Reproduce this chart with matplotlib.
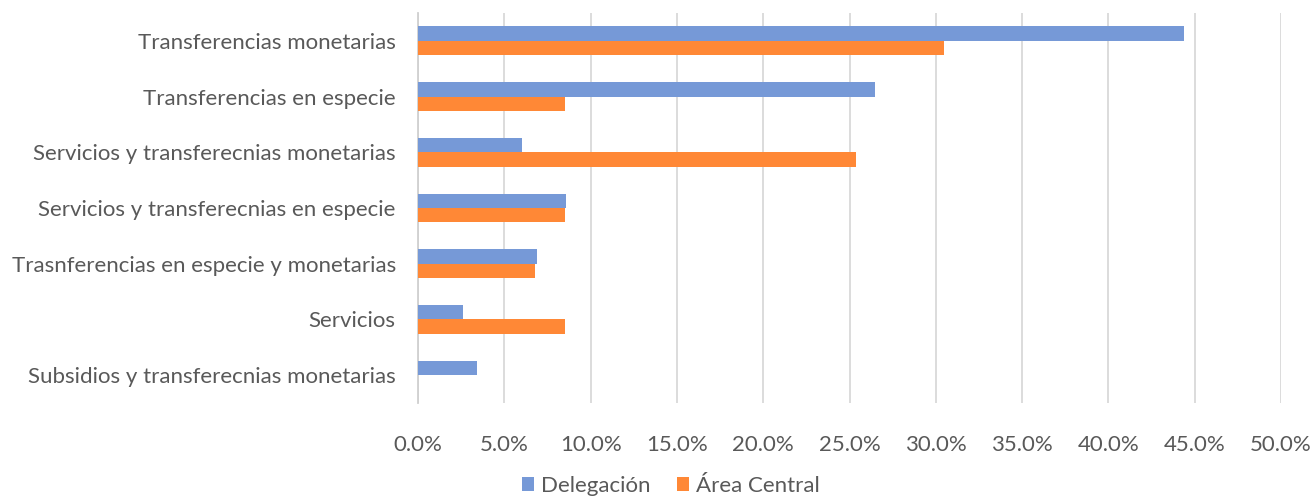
import matplotlib.pyplot as plt
import numpy as np
from matplotlib.ticker import FuncFormatter

#%% Datos (porcentaje)

categorias = [
    'Transferencias monetarias',
    'Transferencias en especie',
    'Servicios y transferecnias monetarias',
    'Servicios y transferecnias en especie',
    'Trasnferencias en especie y monetarias',
    'Servicios',
    'Subsidios y transferecnias monetarias',
]
delegacion = [44.4, 26.5, 6.0, 8.6, 6.9, 2.6, 3.4]
area_central = [30.5, 8.5, 25.4, 8.5, 6.8, 8.5, 0.0]
xticks = [0, 5, 10, 15, 20, 25, 30, 35, 40, 45, 50]

#%%

plt.rcParams['font.family'] = ['Lato', 'DejaVu Sans']
color_txt = '#595959'
color_del = '#7699d7'
color_ac = '#ff8836'
fs = 16

fig = plt.figure(figsize=(13.14, 4.97), dpi=100)
ax = fig.add_axes([418/1314, 94/497, (1281-418)/1314, 390/497])

y = np.arange(len(categorias))
h = 0.26
ax.barh(y - h/2, delegacion, height=h, color=color_del, label='Delegación', zorder=3)
ax.barh(y + h/2, area_central, height=h, color=color_ac, label='Área Central', zorder=3)

ax.set_ylim(len(categorias) - 0.5, -0.5)
ax.set_yticks(y)
ax.set_yticklabels(categorias)
ax.set_xlim(0, 50)
ax.set_xticks(xticks)
ax.xaxis.set_major_formatter(FuncFormatter(lambda v, p: '%.1f%%' % v))

ax.grid(axis='x', color='#d9d9d9', lw=1.3, zorder=0)
for s in ['top', 'right', 'bottom']:
    ax.spines[s].set_visible(False)
ax.spines['left'].set_color('#d0d0d0')
ax.spines['left'].set_linewidth(1.3)
ax.tick_params(axis='both', length=0, labelsize=fs, colors=color_txt)
ax.tick_params(axis='x', pad=23)
ax.tick_params(axis='y', pad=16)

fig.legend(loc='center', bbox_to_anchor=(671/1314, 11/497), ncol=2, frameon=False,
           fontsize=fs, handlelength=0.55, handleheight=0.55, handletextpad=0.3,
           columnspacing=1.2, labelcolor=color_txt)

fig.savefig('out.png', dpi=100)
